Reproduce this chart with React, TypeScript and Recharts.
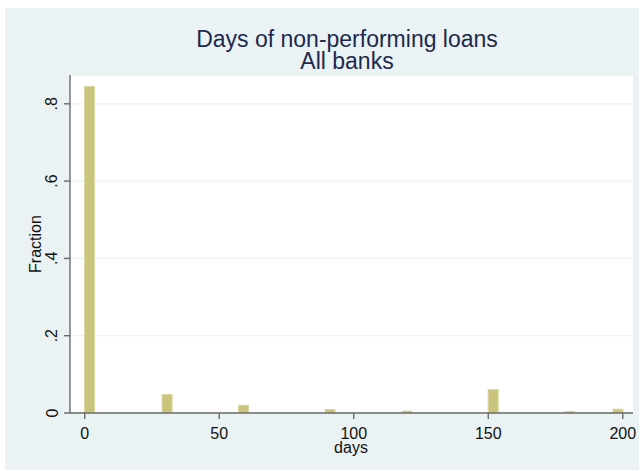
import React from "react";
import { BarChart, Bar, XAxis, YAxis, CartesianGrid } from "recharts";

// Histogram of days past due, fraction of loans per bin
const binStart = [0, 28.8, 57.2, 89.4, 118, 150, 178.5, 196.4];
const fraction = [0.845, 0.048, 0.02, 0.009, 0.005, 0.061, 0.004, 0.01];
const binWidth = 3.7;

const xTicks = [0, 50, 100, 150, 200];
const yTicks = [0, 0.2, 0.4, 0.6, 0.8];

const data = binStart.map((s, i) => ({ mid: s + binWidth / 2, fraction: fraction[i] }));

const FONT = "'Liberation Sans', Arial, sans-serif";
const BG = "#EAF2F3";
const AXIS = "#6A6A6A";
const INK = "#1C2A4E";

const fmtY = (v: number) => (v === 0 ? "0" : String(v).replace(/^0/, ""));

const YTick = (props: any) => {
  const { x, y, payload } = props;
  return (
    <text
      x={x}
      y={y}
      transform={`rotate(-90 ${x} ${y})`}
      textAnchor="middle"
      fontFamily={FONT}
      fontSize={16}
      fill="#111"
    >
      {fmtY(payload.value)}
    </text>
  );
};

const XTick = (props: any) => {
  const { x, y, payload } = props;
  return (
    <text x={x} y={y + 11.5} textAnchor="middle" fontFamily={FONT} fontSize={16} fill="#111">
      {payload.value}
    </text>
  );
};

export default function App() {
  return (
    <div style={{ position: "absolute", left: 0, top: 0, width: 641, height: 471, background: "#fff" }}>
      <div style={{ position: "absolute", left: 5, top: 8, width: 634, height: 462, background: BG }} />
      <div style={{ position: "absolute", left: 0, top: 0 }}>
        <BarChart
          width={641}
          height={471}
          data={data}
          margin={{ top: 75, right: 8, bottom: 28, left: 10 }}
          barGap={0}
        >
          <CartesianGrid vertical={false} fill="#fff" stroke={BG} strokeWidth={1.3} />
          <XAxis
            type="number"
            dataKey="mid"
            domain={[-5.46, 203.8]}
            ticks={xTicks}
            height={30}
            tickSize={6}
            tickMargin={8}
            tick={<XTick />}
            axisLine={{ stroke: AXIS, strokeWidth: 1.4 }}
            tickLine={{ stroke: AXIS, strokeWidth: 1.4 }}
            allowDataOverflow
          />
          <YAxis
            type="number"
            domain={[0, 0.8745]}
            ticks={yTicks}
            width={60}
            tickSize={6}
            tickMargin={6.5}
            tick={<YTick />}
            axisLine={{ stroke: AXIS, strokeWidth: 1.4 }}
            tickLine={{ stroke: AXIS, strokeWidth: 1.4 }}
            allowDataOverflow
          />
          <Bar
            dataKey="fraction"
            fill="#CBC47C"
            stroke="#DAD69E"
            strokeWidth={1}
            barSize={10}
            isAnimationActive={false}
          />
        </BarChart>
      </div>
      <svg
        width={641}
        height={471}
        style={{ position: "absolute", left: 0, top: 0, pointerEvents: "none" }}
      >
        <text x={347} y={47} textAnchor="middle" fontFamily={FONT} fontSize={23} fill={INK}>
          Days of non-performing loans
        </text>
        <text x={347} y={68.5} textAnchor="middle" fontFamily={FONT} fontSize={23} fill={INK}>
          All banks
        </text>
        <text
          x={40.5}
          y={244}
          transform="rotate(-90 40.5 244)"
          textAnchor="middle"
          fontFamily={FONT}
          fontSize={16}
          fill="#111"
        >
          Fraction
        </text>
        <text x={351} y={453} textAnchor="middle" fontFamily={FONT} fontSize={16} fill="#111">
          days
        </text>
      </svg>
    </div>
  );
}
